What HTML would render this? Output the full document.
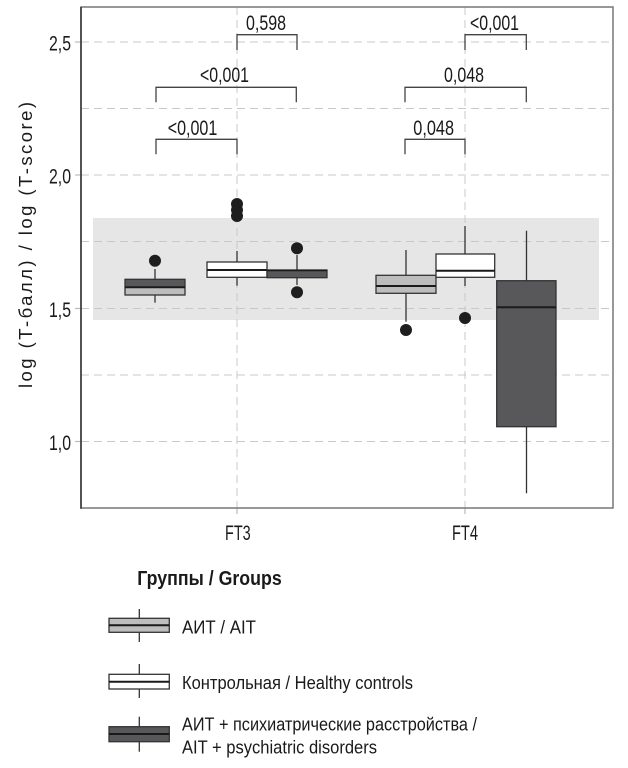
<!DOCTYPE html>
<html><head><meta charset="utf-8"><style>
html,body{margin:0;padding:0;background:#fff;}
svg{display:block;}
text{font-family:"Liberation Sans","DejaVu Sans",sans-serif;fill:#1a1a1a;}
</style></head><body>
<svg width="628" height="768" viewBox="0 0 628 768" xmlns="http://www.w3.org/2000/svg">
<rect x="0" y="0" width="628" height="768" fill="#fff"/>
<!-- band -->
<rect x="93" y="218" width="506" height="102" fill="#e6e6e6"/>
<!-- grid -->
<g stroke="#c8c8c8" stroke-width="1" stroke-dasharray="8,5" fill="none">
<line x1="81" y1="42" x2="613" y2="42"/>
<line x1="81" y1="108.5" x2="613" y2="108.5"/>
<line x1="81" y1="175" x2="613" y2="175"/>
<line x1="81" y1="241.5" x2="613" y2="241.5"/>
<line x1="81" y1="308.5" x2="613" y2="308.5"/>
<line x1="81" y1="375" x2="613" y2="375"/>
<line x1="81" y1="441.5" x2="613" y2="441.5"/>
<line x1="237" y1="7" x2="237" y2="508"/>
<line x1="465" y1="7" x2="465" y2="508"/>
</g>
<!-- ticks -->
<g stroke="#bbb" stroke-width="1.2">
<line x1="75" y1="42" x2="81" y2="42"/>
<line x1="75" y1="175" x2="81" y2="175"/>
<line x1="75" y1="308.5" x2="81" y2="308.5"/>
<line x1="75" y1="441.5" x2="81" y2="441.5"/>
<line x1="237" y1="508" x2="237" y2="514"/>
<line x1="465" y1="508" x2="465" y2="514"/>
</g>
<!-- whiskers -->
<g stroke="#333" stroke-width="1.3">
<line x1="155" y1="269" x2="155" y2="302.7"/>
<line x1="237" y1="251" x2="237" y2="285.7"/>
<line x1="297" y1="255" x2="297" y2="285"/>
<line x1="406" y1="250" x2="406" y2="321.7"/>
<line x1="465" y1="226" x2="465" y2="286"/>
<line x1="526.5" y1="230.7" x2="526.5" y2="493.3"/>
</g>
<!-- boxes FT3 -->
<rect x="125" y="287.3" width="60" height="7.7" fill="#bdbdbd"/>
<rect x="125" y="279.3" width="60" height="8" fill="#58585a"/>
<rect x="125" y="279.3" width="60" height="15.7" fill="none" stroke="#333" stroke-width="1.3"/>
<line x1="125" y1="287.3" x2="185" y2="287.3" stroke="#1a1a1a" stroke-width="2"/>
<rect x="207" y="262" width="60" height="15.3" fill="#fff" stroke="#333" stroke-width="1.3"/>
<line x1="207" y1="270" x2="267" y2="270" stroke="#1a1a1a" stroke-width="2"/>
<rect x="267" y="270" width="60" height="7.7" fill="#58585a" stroke="#333" stroke-width="1.3"/>
<line x1="267" y1="270.5" x2="327" y2="270.5" stroke="#1a1a1a" stroke-width="1.5"/>
<!-- boxes FT4 -->
<rect x="376" y="275.3" width="60" height="18" fill="#bdbdbd" stroke="#333" stroke-width="1.3"/>
<line x1="376" y1="286" x2="436" y2="286" stroke="#1a1a1a" stroke-width="2"/>
<rect x="436" y="254" width="58.7" height="23.3" fill="#fff" stroke="#333" stroke-width="1.3"/>
<line x1="436" y1="270.7" x2="494.7" y2="270.7" stroke="#1a1a1a" stroke-width="2"/>
<rect x="496.7" y="280.7" width="59.3" height="146" fill="#58585a" stroke="#333" stroke-width="1.3"/>
<line x1="496.7" y1="307.3" x2="556" y2="307.3" stroke="#1a1a1a" stroke-width="2"/>
<!-- outliers -->
<g fill="#1e1e1e">
<circle cx="155" cy="260.7" r="6"/>
<circle cx="237" cy="204" r="6"/>
<circle cx="237" cy="210" r="6"/>
<circle cx="237" cy="216" r="6"/>
<circle cx="297" cy="248.3" r="6"/>
<circle cx="297" cy="292.3" r="6"/>
<circle cx="406" cy="330" r="6"/>
<circle cx="465" cy="318" r="6"/>
</g>
<!-- panel border -->
<rect x="81" y="7" width="532" height="501" fill="none" stroke="#777" stroke-width="1.5"/>
<line x1="81" y1="7" x2="81" y2="508.7" stroke="#333" stroke-width="1.5"/>
<!-- brackets -->
<g stroke="#444" stroke-width="1.3" fill="none">
<polyline points="237,50 237,34.7 297,34.7 297,50"/>
<polyline points="156,102.3 156,87.3 296.3,87.3 296.3,102.3"/>
<polyline points="156,154.3 156,139.3 237,139.3 237,154.3"/>
<polyline points="465,50 465,34.7 526.3,34.7 526.3,50"/>
<polyline points="405,102.3 405,87.3 526.3,87.3 526.3,102.3"/>
<polyline points="405,154.3 405,139.3 465,139.3 465,154.3"/>
</g>
<g font-size="21">
<text x="246" y="30" textLength="40" lengthAdjust="spacingAndGlyphs">0,598</text>
<text x="200" y="82" textLength="49" lengthAdjust="spacingAndGlyphs">&lt;0,001</text>
<text x="167.7" y="135" textLength="49.6" lengthAdjust="spacingAndGlyphs">&lt;0,001</text>
<text x="470" y="30" textLength="49" lengthAdjust="spacingAndGlyphs">&lt;0,001</text>
<text x="444" y="82" textLength="40" lengthAdjust="spacingAndGlyphs">0,048</text>
<text x="413.3" y="135" textLength="40.7" lengthAdjust="spacingAndGlyphs">0,048</text>
</g>
<!-- y tick labels -->
<g font-size="21.5">
<text x="49" y="50.5" textLength="22" lengthAdjust="spacingAndGlyphs">2,5</text>
<text x="49" y="183.5" textLength="22" lengthAdjust="spacingAndGlyphs">2,0</text>
<text x="49" y="317" textLength="22" lengthAdjust="spacingAndGlyphs">1,5</text>
<text x="49" y="450" textLength="22" lengthAdjust="spacingAndGlyphs">1,0</text>
</g>
<!-- x labels -->
<g font-size="21">
<text x="225" y="540" textLength="25.7" lengthAdjust="spacingAndGlyphs">FT3</text>
<text x="452" y="540" textLength="26" lengthAdjust="spacingAndGlyphs">FT4</text>
</g>
<!-- y axis title -->
<text transform="translate(32,388) rotate(-90)" x="0" y="0" font-size="18.5" textLength="286" lengthAdjust="spacing">log (T-балл) / log (T-score)</text>
<!-- legend -->
<text x="137.3" y="585" font-size="20" font-weight="bold" textLength="144.4" lengthAdjust="spacingAndGlyphs">Группы / Groups</text>
<g stroke="#333" stroke-width="1.3">
<line x1="139.3" y1="609" x2="139.3" y2="642"/>
<line x1="139.3" y1="664" x2="139.3" y2="698"/>
<line x1="139.3" y1="716.7" x2="139.3" y2="751.7"/>
</g>
<rect x="109" y="618.3" width="60.3" height="14" fill="#bdbdbd" stroke="#333" stroke-width="1.3"/>
<line x1="109" y1="625.3" x2="169.3" y2="625.3" stroke="#1a1a1a" stroke-width="2"/>
<rect x="109" y="674.3" width="60.3" height="14.7" fill="#fff" stroke="#333" stroke-width="1.3"/>
<line x1="109" y1="681.7" x2="169.3" y2="681.7" stroke="#1a1a1a" stroke-width="2"/>
<rect x="109" y="726.7" width="60.3" height="15" fill="#58585a" stroke="#333" stroke-width="1.3"/>
<line x1="109" y1="734" x2="169.3" y2="734" stroke="#1a1a1a" stroke-width="2"/>
<g font-size="18">
<text x="182" y="633.3" textLength="74" lengthAdjust="spacingAndGlyphs">АИТ / AIT</text>
<text x="182" y="689" textLength="231" lengthAdjust="spacingAndGlyphs">Контрольная / Healthy controls</text>
<text x="182" y="730.5" textLength="295" lengthAdjust="spacingAndGlyphs">АИТ + психиатрические расстройства /</text>
<text x="182" y="753.3" textLength="195" lengthAdjust="spacingAndGlyphs">AIT + psychiatric disorders</text>
</g>
</svg>
</body></html>
